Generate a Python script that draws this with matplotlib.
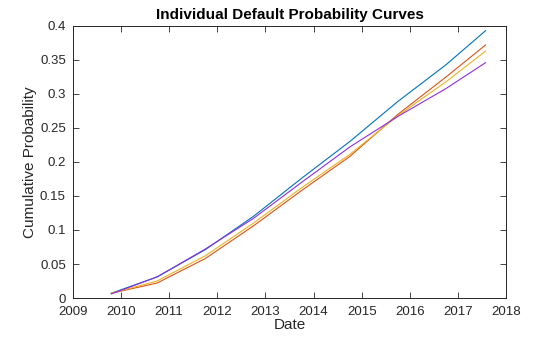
import matplotlib
matplotlib.use("Agg")
import matplotlib.pyplot as plt

plt.rcParams['font.family'] = ['Liberation Sans', 'DejaVu Sans']

dates = [2009.80, 2010.75, 2011.75, 2012.75, 2013.75, 2014.75, 2015.75, 2016.75, 2017.57]
blue = [0.007, 0.031, 0.071, 0.120, 0.176, 0.230, 0.289, 0.343, 0.393]
orange = [0.007, 0.022, 0.058, 0.106, 0.158, 0.208, 0.270, 0.325, 0.372]
yellow = [0.007, 0.025, 0.062, 0.110, 0.162, 0.211, 0.268, 0.318, 0.363]
purple = [0.006, 0.031, 0.072, 0.117, 0.170, 0.222, 0.267, 0.308, 0.346]

series = [(blue, '#0072BD'), (orange, '#D95319'), (yellow, '#EDB120'), (purple, '#8E2FE0')]

xticks = list(range(2009, 2019))
yticks = [0, 0.05, 0.1, 0.15, 0.2, 0.25, 0.3, 0.35, 0.4]
ytick_labels = ['0', '0.05', '0.1', '0.15', '0.2', '0.25', '0.3', '0.35', '0.4']

fig = plt.figure(figsize=(5.6, 3.37), dpi=100)
ax = fig.add_axes([0.130, 0.1157, 0.774, 0.8073])
for vals, c in series:
    ax.plot(dates, vals, color=c, lw=0.8)

ax.set_xlim(2009, 2018)
ax.set_ylim(0, 0.4)
ax.set_xticks(xticks)
ax.set_xticklabels([str(t) for t in xticks])
ax.set_yticks(yticks)
ax.set_yticklabels(ytick_labels)
ax.tick_params(direction='in', length=4, width=0.6, labelsize=9.5, top=True, right=True, colors='#262626')
ax.tick_params(axis='x', pad=6)
ax.tick_params(axis='y', pad=5)
for s in ax.spines.values():
    s.set_linewidth(0.7)
    s.set_color('#262626')
ax.set_xlabel('Date', fontsize=11, color='#262626', labelpad=0)
ax.set_ylabel('Cumulative Probability', fontsize=11, color='#262626', labelpad=2)
ax.set_title('Individual Default Probability Curves', fontsize=11, fontweight='bold', pad=5)

fig.savefig('out.png', dpi=100)
